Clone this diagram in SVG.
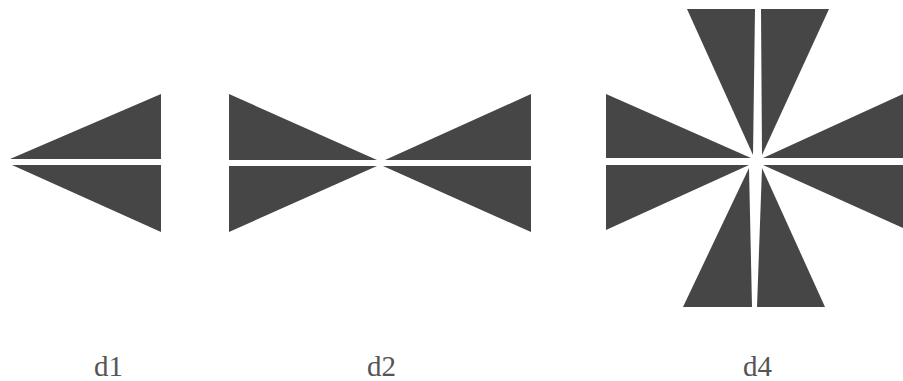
<svg xmlns="http://www.w3.org/2000/svg" width="903" height="381" viewBox="0 0 903 381">
<style>
.t{fill:#464646;stroke:none}
.lbl{font-family:"Liberation Serif","Times New Roman",serif;font-size:29px;fill:#555}
</style>
<rect width="903" height="381" fill="#fff"/>
<g id="d1">
<polygon class="t" points="10,159 161,94 161,159"/>
<polygon class="t" points="12,165 161,165 161,232"/>
<text class="lbl" x="94" y="376">d1</text>
</g>
<g id="d2">
<polygon class="t" points="229,94 229,160 377,160"/>
<polygon class="t" points="229,166 377,166 229,232"/>
<polygon class="t" points="385,160 531,94 531,160"/>
<polygon class="t" points="383,166 531,166 531,232"/>
<text class="lbl" x="367" y="376">d2</text>
</g>
<g id="d4">
<polygon class="t" points="687,9 755,9 753,155"/>
<polygon class="t" points="761,9 829,9 762,155"/>
<polygon class="t" points="606,94 606,158 751,158"/>
<polygon class="t" points="606,165 749,165 606,230"/>
<polygon class="t" points="763,158 903,94 903,158"/>
<polygon class="t" points="763,165 903,165 903,228"/>
<polygon class="t" points="749,168 683,307 752,307"/>
<polygon class="t" points="762,168 757,307 825,307"/>
<text class="lbl" x="743" y="376">d4</text>
</g>
<g id="connectors"></g>
</svg>
